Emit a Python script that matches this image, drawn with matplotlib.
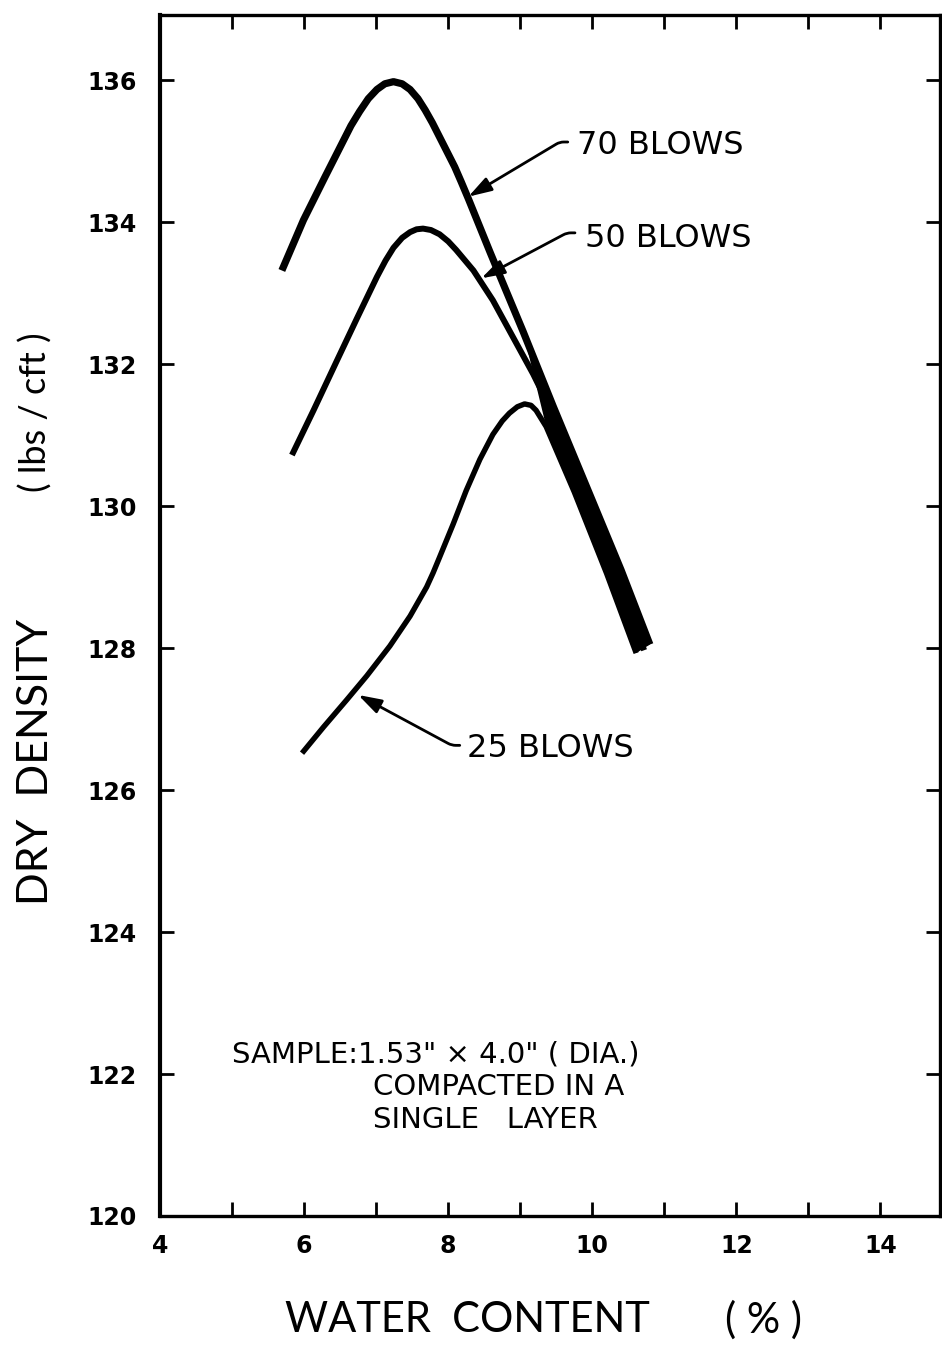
import numpy as np
import matplotlib
matplotlib.use("Agg")
import matplotlib.pyplot as plt

# values (water content %, dry density lbs/cft)
w70 = [5.69, 5.99, 6.29, 6.52, 6.65, 6.77, 6.89, 7.01, 7.12, 7.24, 7.36, 7.47, 7.58, 7.68, 7.78,
       7.88, 7.98, 8.09, 8.18, 8.28, 8.44, 8.58, 8.76, 9.04, 9.46, 10.00, 10.40, 10.80]
d70 = [133.32, 134.03, 134.64, 135.10, 135.36, 135.56, 135.74, 135.87, 135.95, 135.98, 135.95, 135.87,
       135.74, 135.58, 135.40, 135.20, 135.00, 134.78, 134.57, 134.33, 133.93, 133.58, 133.14, 132.46,
       131.40, 130.08, 129.10, 128.05]

w50 = [5.83, 6.13, 6.45, 6.73, 7.01, 7.13, 7.24, 7.36, 7.47, 7.56, 7.65, 7.76, 7.88, 8.00, 8.11,
       8.35, 8.62, 8.90, 9.18, 9.36, 9.80, 10.25, 10.72]
d50 = [130.72, 131.35, 132.04, 132.64, 133.23, 133.46, 133.64, 133.78, 133.86, 133.90, 133.91, 133.89,
       133.83, 133.73, 133.61, 133.32, 132.90, 132.38, 131.86, 131.49, 130.42, 129.28, 127.97]

w25 = [5.97, 6.27, 6.59, 6.87, 7.19, 7.47, 7.70, 7.79, 7.88, 8.07, 8.25, 8.44, 8.62, 8.75, 8.85, 8.96,
       9.06, 9.15, 9.22, 9.36, 9.75, 10.20, 10.61]
d25 = [126.52, 126.89, 127.27, 127.61, 128.03, 128.45, 128.86, 129.06, 129.28, 129.75, 130.22, 130.66,
       131.01, 131.20, 131.31, 131.40, 131.44, 131.42, 131.35, 131.12, 130.20, 129.05, 127.93]

xticks = [4, 6, 8, 10, 12, 14]
yticks = [120, 122, 124, 126, 128, 130, 132, 134, 136]

plt.rcParams['font.family'] = ['DejaVu Sans']

fig = plt.figure(figsize=(9.42, 13.46), dpi=100)
ax = fig.add_axes([0.170, 0.0966, 0.828, 0.8923])

ax.plot(w70, d70, color='black', lw=5.2, solid_capstyle='butt', solid_joinstyle='round')
ax.plot(w50, d50, color='black', lw=4.3, solid_capstyle='butt', solid_joinstyle='round')
ax.plot(w25, d25, color='black', lw=3.9, solid_capstyle='butt', solid_joinstyle='round')

# the three wet-side branches run together into one heavy band
n70 = 5
n25 = 4
band_x = w70[-n70:] + w25[-n25:][::-1]
band_y = d70[-n70:] + d25[-n25:][::-1]
ax.fill(band_x, band_y, color='black', lw=0)

ax.set_xlim(4, 14.83)
ax.set_ylim(120, 136.92)

ax.set_xticks(xticks)
ax.set_xticks(np.arange(4, 15), minor=True)
ax.set_yticks(yticks)
ax.set_xticklabels([str(t) for t in xticks], fontsize=17, fontweight='bold')
ax.set_yticklabels([str(t) for t in yticks], fontsize=17, fontweight='bold')
ax.tick_params(axis='x', which='both', direction='in', length=10, width=2.0,
               top=True, pad=13)
ax.tick_params(axis='y', direction='in', length=10, width=2.0, right=True, pad=17)
for s in ax.spines.values():
    s.set_linewidth(2.4)
ax.spines['left'].set_linewidth(3.0)

# axis titles
fig.text(0.038, 0.434, 'DRY  DENSITY', rotation=90, fontsize=31, family='Lato',
         ha='center', va='center')
fig.text(0.038, 0.694, '( lbs / cft )', rotation=90, fontsize=26, family='Lato',
         ha='center', va='center')
fig.text(0.496, 0.019, 'WATER  CONTENT', fontsize=30, family='Lato', ha='center', va='center')
fig.text(0.81, 0.019, '( % )', fontsize=30, family='Lato', ha='center', va='center')

arr = dict(arrowstyle='-|>,head_length=0.7,head_width=0.22', color='black', lw=2.0,
           mutation_scale=20,
           connectionstyle='arc,angleA=180,armA=8,angleB=0,armB=0,rad=4',
           shrinkA=0, shrinkB=0)
ax.annotate('', xy=(8.28, 134.36), xytext=(9.66, 135.13), arrowprops=arr)
ax.annotate('', xy=(8.46, 133.21), xytext=(9.76, 133.85), arrowprops=arr)
ax.annotate('', xy=(6.75, 127.34), xytext=(8.16, 126.63), arrowprops=arr)

ax.text(9.79, 135.08, '70 BLOWS', fontsize=23, va='center', ha='left')
ax.text(9.90, 133.77, '50 BLOWS', fontsize=23, va='center', ha='left')
ax.text(8.26, 126.59, '25 BLOWS', fontsize=23, va='center', ha='left')

ax.text(5.0, 122.27, 'SAMPLE:1.53" \u00d7 4.0" ( DIA.)', fontsize=21, va='center', ha='left')
ax.text(6.96, 121.82, 'COMPACTED IN A', fontsize=21, va='center', ha='left')
ax.text(6.96, 121.35, 'SINGLE   LAYER', fontsize=21, va='center', ha='left')

fig.savefig('out.png', dpi=100)
